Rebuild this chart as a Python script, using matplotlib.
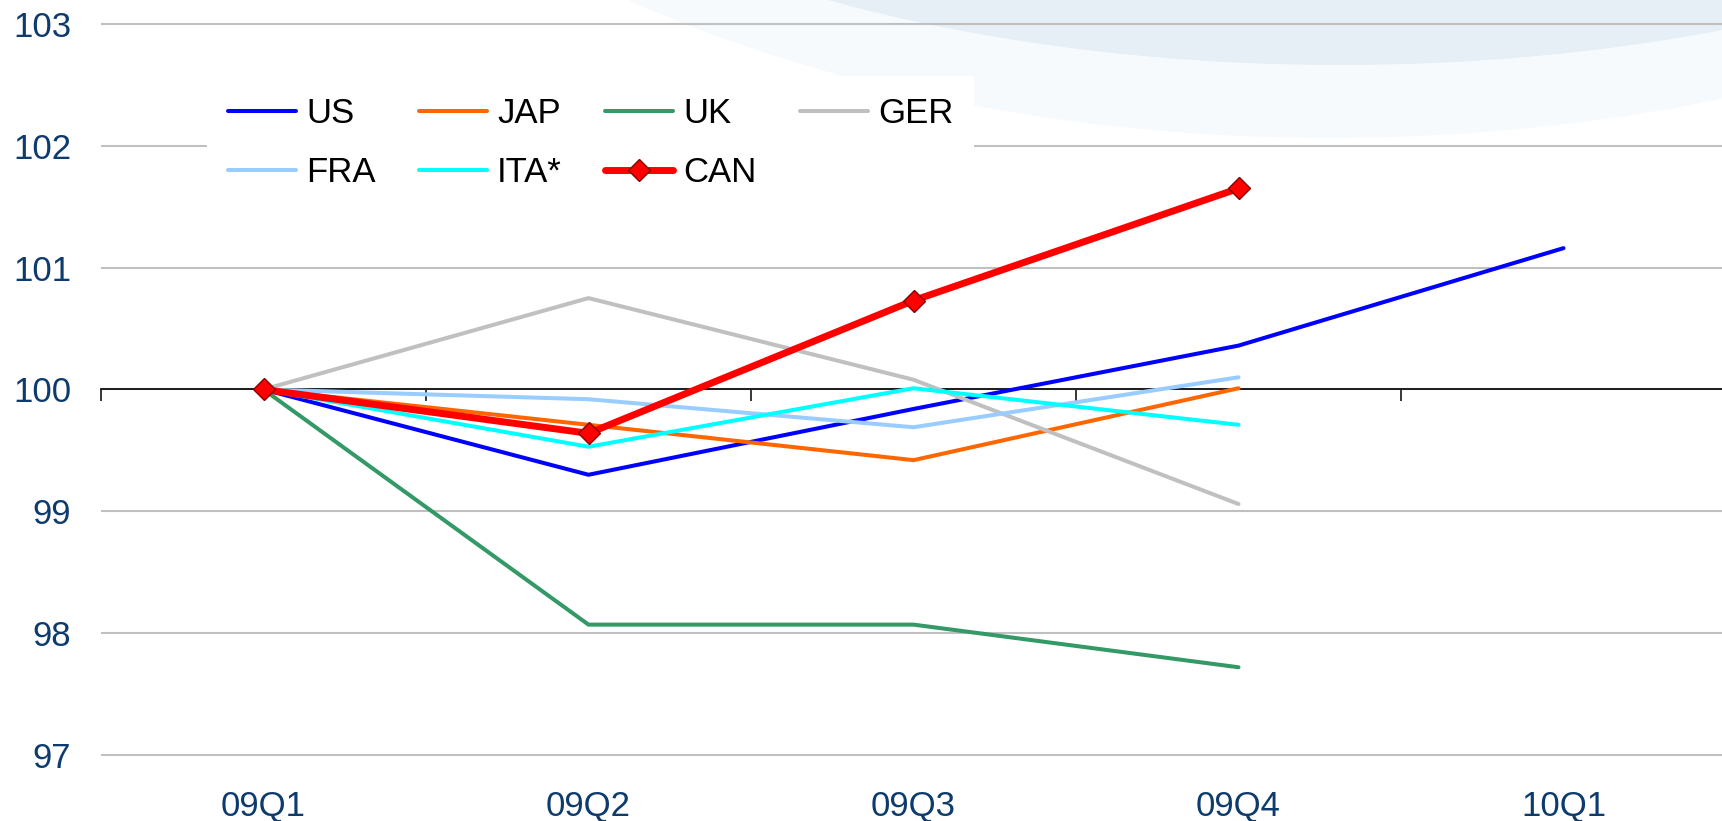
import matplotlib
matplotlib.use("Agg")
import matplotlib.pyplot as plt
from matplotlib.patches import Ellipse

plt.rcParams['font.family'] = ['Liberation Sans', 'DejaVu Sans']

quarters = ["09Q1", "09Q2", "09Q3", "09Q4", "10Q1"]
us = [100.0, 99.30, 99.84, 100.36, 101.16]
jap = [100.0, 99.71, 99.42, 100.01]
uk = [100.0, 98.07, 98.07, 97.72]
ger = [100.0, 100.75, 100.08, 99.06]
fra = [100.0, 99.92, 99.69, 100.10]
ita = [100.0, 99.53, 100.01, 99.71]
can = [100.0, 99.64, 100.73, 101.65]
yticks = [97, 98, 99, 100, 101, 102, 103]

navy = "#0D3B6E"
W, H = 1722, 821
fig = plt.figure(figsize=(W / 100, H / 100), dpi=100)

# decorative background swoosh (figure pixel coordinates)
outer = Ellipse((1330, 1283), 2200, 1200, transform=None, facecolor="#F7FAFC",
                edgecolor="none", zorder=-2)
inner = Ellipse((1340, 1206), 1980, 900, transform=None, facecolor="#E6EFF6",
                edgecolor="none", zorder=-1)
fig.patches.extend([outer, inner])

ax = fig.add_axes([101 / W, 62.35 / H, (1726 - 101) / W, 0.89933])
ax.set_facecolor("none")

series = [
    ("US", us, "#0000FF", 2.9),
    ("JAP", jap, "#FF6600", 2.9),
    ("UK", uk, "#339966", 2.9),
    ("GER", ger, "#C0C0C0", 2.9),
    ("FRA", fra, "#99CCFF", 2.9),
    ("ITA*", ita, "#00FFFF", 2.9),
]
handles = {}
for name, vals, col, lw in series:
    (h,) = ax.plot(range(len(vals)), vals, color=col, lw=lw,
                   solid_capstyle="round", label=name, zorder=3)
    handles[name] = h
(h,) = ax.plot(range(len(can)), can, color="#FF0000", lw=5, marker="D",
               markersize=11.5, markerfacecolor="#FF0000",
               markeredgecolor="#8B0000", markeredgewidth=1.0,
               solid_capstyle="round", label="CAN", zorder=4)
handles["CAN"] = h

ax.set_xlim(-0.5, 4.5)
ax.set_ylim(96.97, 103.03)
ax.set_yticks(yticks)
ax.set_yticklabels([str(v) for v in yticks])
ax.tick_params(axis="y", length=0, pad=21.5, labelsize=25, labelcolor=navy)
ax.yaxis.grid(True, color="#C0C0C0", lw=1.5, zorder=1)
ax.set_axisbelow(True)

for s in ["top", "right", "left"]:
    ax.spines[s].set_visible(False)
ax.spines["bottom"].set_position(("data", 100))
ax.spines["bottom"].set_linewidth(1.2)
ax.spines["bottom"].set_zorder(2)
ax.set_xticks([i - 0.5 for i in range(len(quarters) + 1)])
ax.set_xticklabels([])
ax.tick_params(axis="x", direction="out", length=8.5, width=1.1, color="black")

sec = ax.secondary_xaxis(location=0)
sec.set_xticks(range(len(quarters)))
sec.set_xticklabels(quarters)
sec.tick_params(length=0, pad=22.5, labelsize=25, labelcolor=navy)
sec.spines["bottom"].set_visible(False)

order = ["US", "FRA", "JAP", "ITA*", "UK", "CAN", "GER"]
leg = ax.legend([handles[k] for k in order], order, ncol=4, loc="upper left",
                bbox_to_anchor=(207 / W, (H - 76) / H),
                bbox_transform=fig.transFigure, borderaxespad=0,
                borderpad=0.6, fontsize=25, handlelength=1.95,
                handletextpad=0.3, columnspacing=1.25, labelspacing=0.75,
                frameon=True, fancybox=False, framealpha=1,
                facecolor="white", edgecolor="none")
leg.set_zorder(5)

fig.savefig("out.png", dpi=100)
